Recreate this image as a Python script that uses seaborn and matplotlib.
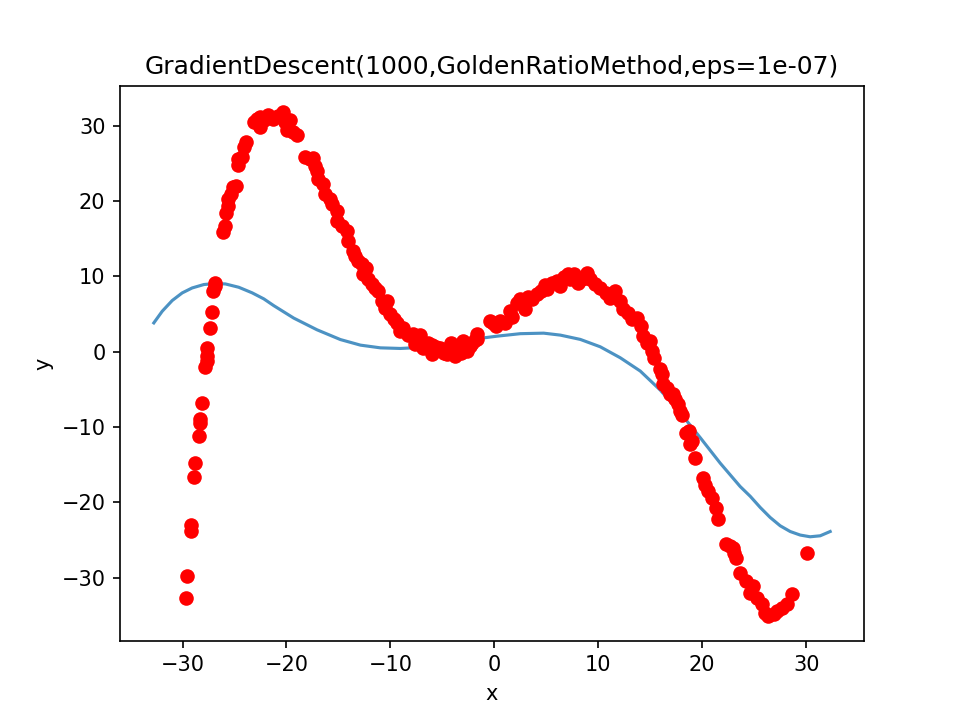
import matplotlib
matplotlib.use("Agg")
import matplotlib.pyplot as plt
import seaborn as sns

# sample points (red dots)
points_x = [
    -29.71, -29.52, -29.23, -29.23, -28.85, -28.75, -28.46, -28.27, -28.27, -28.17,
    -27.79, -27.69, -27.69, -27.60, -27.31, -27.21, -27.02, -26.92, -26.83,
    -26.06, -25.96, -25.77, -25.67, -25.58, -25.38, -25.19, -24.90, -24.62, -24.62,
    -24.23, -24.04, -23.85,
    -23.17, -22.88, -22.50, -22.50, -22.12, -21.73, -21.25, -20.77, -20.38, -20.10,
    -19.90, -19.62, -19.33, -18.94,
    -18.17, -17.69, -17.40, -17.21, -17.02, -16.92, -16.44, -16.25, -15.77, -15.58,
    -15.10, -15.10, -14.62, -14.13, -14.04, -13.56, -13.37, -13.08, -12.69, -12.60,
    -12.31, -12.12, -11.73, -11.44, -11.15, -10.77, -10.48, -10.29, -10.00, -9.62,
    -9.33, -9.04, -8.75, -8.27, -7.79, -7.40, -7.12, -6.83, -6.35, -5.96,
    -5.58, -5.19, -4.81, -4.52, -4.04, -3.75, -3.46, -2.98, -2.98, -2.60,
    -2.12, -1.63, -1.63, -7.60, -6.00, -5.00, -4.20, -3.20, -2.30, -1.90,
    -0.38, -0.10, 0.19, 0.58, 1.06, 1.54, 1.73, 2.21, 2.50, 2.79,
    2.98, 3.27, 3.65, 4.13, 4.52, 4.90, 5.10, 5.58, 6.06, 6.35,
    6.73, 7.12, 7.31, 7.69, 8.08, 8.46, 8.94, 9.23, 9.71, 10.19,
    10.77, 11.15, 11.63, 12.12, 12.40, 12.88, 13.27, 13.75, 14.13, 14.33,
    14.71, 15.00, 15.19, 15.38, 15.96, 16.15, 16.25, 16.63, 16.92, 17.21,
    17.40, 17.69, 17.88, 18.08, 18.46, 18.75, 18.85, 19.04, 19.33, 20.10,
    20.29, 20.58, 20.96, 21.35, 21.54, 22.31, 22.69, 22.98, 23.08, 23.27,
    23.65, 24.23, 24.62, 24.90, 25.29, 25.77, 26.06, 26.35, 26.92, 27.21,
    27.69, 28.17, 28.65, 30.10,
]
points_y = [
    -32.65, -29.74, -23.77, -22.98, -16.62, -14.77, -11.19, -9.47, -8.94, -6.82,
    -2.05, -1.26, -0.60, 0.46, 3.11, 5.23, 8.01, 8.68, 9.07,
    15.83, 16.62, 18.34, 19.27, 20.20, 20.86, 21.79, 21.92, 24.83, 25.50,
    25.89, 27.09, 27.75,
    30.53, 30.93, 31.19, 29.87, 30.79, 31.46, 30.93, 31.32, 31.85, 30.53,
    29.47, 30.79, 29.20, 28.81,
    25.89, 25.50, 25.63, 24.57, 23.91, 22.85, 22.19, 20.86, 20.20, 19.54,
    18.61, 17.29, 16.62, 15.96, 14.64, 13.31, 12.65, 11.99, 11.59, 10.26,
    11.06, 9.60, 8.94, 8.41, 8.01, 6.69, 5.76, 6.69, 4.97, 4.30,
    3.77, 2.72, 3.11, 2.19, 2.32, 1.39, 2.19, 0.46, 1.13, -0.33,
    0.60, 0.46, -0.20, -0.33, 0.73, -0.60, 0.33, 0.46, 1.39, 0.07,
    1.13, 2.32, 1.66, 1.00, 0.90, 0.20, 1.10, -0.20, 0.80, 1.60,
    4.04, 3.77, 3.38, 4.04, 3.77, 5.36, 4.57, 6.42, 6.95, 6.69,
    5.63, 7.22, 6.95, 7.62, 8.01, 8.81, 8.28, 9.07, 9.34, 8.68,
    9.87, 10.26, 9.60, 10.26, 9.07, 9.60, 10.40, 9.60, 8.94, 8.41,
    7.75, 7.09, 8.01, 6.69, 5.63, 5.10, 4.30, 4.44, 3.38, 2.05,
    1.13, 1.39, 0.07, -0.86, -2.32, -2.98, -4.30, -4.83, -5.63, -5.63,
    -6.29, -6.95, -7.88, -8.41, -10.79, -10.53, -12.25, -11.85, -14.11, -16.75,
    -17.68, -18.48, -19.40, -20.73, -22.19, -25.50, -25.76, -26.03, -26.69, -27.35,
    -29.34, -30.40, -31.99, -31.06, -32.65, -33.44, -34.64, -35.03, -34.77, -34.37,
    -33.97, -33.44, -32.12, -26.69,
]

# fitted curve (blue line)
curve_x = [
    -32.76, -31.95, -30.99, -30.03, -29.07, -27.95, -26.90, -25.87, -24.59, -23.30,
    -22.18, -21.22, -19.30, -17.05, -14.81, -12.88, -10.96, -9.04, -7.12, -5.20,
    -4.23, -2.31, 0.26, 2.50, 4.74, 6.35, 8.27, 10.19, 12.12, 14.04,
    15.96, 17.88, 19.81, 21.73, 23.65, 24.62, 25.58, 26.54, 27.50, 28.46,
    29.42, 30.38, 31.35, 32.31,
]
curve_y = [
    3.81, 5.36, 6.78, 7.79, 8.45, 8.90, 9.04, 8.98, 8.54, 7.80,
    7.00, 6.10, 4.45, 2.89, 1.60, 0.86, 0.50, 0.42, 0.55, 0.85,
    1.10, 1.60, 2.05, 2.38, 2.45, 2.19, 1.62, 0.64, -0.82, -2.58,
    -5.10, -8.11, -11.42, -14.80, -17.90, -19.20, -20.68, -22.01, -23.11, -23.87,
    -24.34, -24.57, -24.44, -23.87,
]

title = "GradientDescent(1000,GoldenRatioMethod,eps=1e-07)"

fig, ax = plt.subplots(figsize=(6.4, 4.8), dpi=150)
sns.lineplot(x=curve_x, y=curve_y, sort=False, color="tab:blue", alpha=0.8,
             linewidth=1.5, ax=ax)
sns.scatterplot(x=points_x, y=points_y, color="red", s=49, linewidth=0,
                zorder=3, ax=ax)
ax.set_title(title)
ax.set_xlabel("x")
ax.set_ylabel("y")
fig.savefig("out.png", dpi=150)
